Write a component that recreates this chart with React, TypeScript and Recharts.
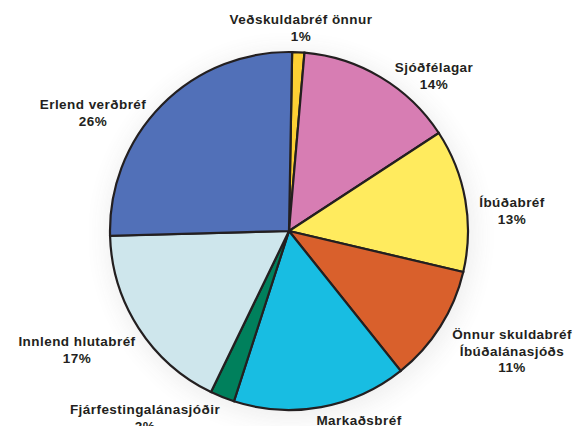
import { PieChart, Pie, Cell } from 'recharts';

const names = [
  'Veðskuldabréf önnur',
  'Sjóðfélagar',
  'Íbúðabréf',
  'Önnur skuldabréf Íbúðalánasjóðs',
  'Markaðsbréf',
  'Fjárfestingalánasjóðir',
  'Innlend hlutabréf',
  'Erlend verðbréf',
];

// shares (labels show rounded values)
const shares = [1.1, 14.4, 12.9, 10.6, 15.7, 2.2, 17.4, 25.7];

const labelLines = [
  ['Veðskuldabréf önnur', '1%'],
  ['Sjóðfélagar', '14%'],
  ['Íbúðabréf', '13%'],
  ['Önnur skuldabréf', 'Íbúðalánasjóðs', '11%'],
  ['Markaðsbréf', '16%'],
  ['Fjárfestingalánasjóðir', '2%'],
  ['Innlend hlutabréf', '17%'],
  ['Erlend verðbréf', '26%'],
];

const colors = ['#FDD034', '#D77DB3', '#FFEB5E', '#D9602C', '#18BDE2', '#00805C', '#CEE6EC', '#5170B8'];

// label anchors (centre x, first baseline) relative to the pie centre
const labelOffsets = [
  [12, -207],
  [145, -159],
  [223, -24],
  [223, 108],
  [70, 194],
  [-144, 183],
  [-212, 115],
  [-196, -122],
];

const data = names.map((name, i) => ({ name, value: shares[i] }));

const CX = 289;
const CY = 231;
const R = 179;

const renderLabel = (props: any) => {
  const { index, cx, cy } = props;
  const [dx, dy] = labelOffsets[index];
  return (
    <text
      key={`lbl-${index}`}
      x={cx + dx}
      y={cy + dy}
      textAnchor="middle"
      fill="#231F20"
      fontFamily="'Liberation Sans', Arial, sans-serif"
      fontWeight="bold"
      fontSize={13.5}
      letterSpacing={0.45}
    >
      {labelLines[index].map((line, j) => (
        <tspan key={j} x={cx + dx} dy={j === 0 ? 0 : 16.5}>
          {line}
        </tspan>
      ))}
    </text>
  );
};

const App = () => (
  <div style={{ position: 'absolute', left: 0, top: 0, width: 576, height: 426, background: '#fff', overflow: 'hidden' }}>
    <style>{`.pie-shadow { filter: blur(9px); opacity: 0.32; }`}</style>
    <PieChart width={576} height={426} margin={{ top: 0, right: 0, bottom: 0, left: 0 }}>
      <Pie
        className="pie-shadow"
        data={data}
        dataKey="value"
        cx={CX + 2}
        cy={CY + 4}
        outerRadius={R + 4}
        startAngle={89}
        endAngle={-271}
        fill="#555"
        stroke="none"
        isAnimationActive={false}
        labelLine={false}
      />
      <Pie
        data={data}
        dataKey="value"
        cx={CX}
        cy={CY}
        outerRadius={R}
        startAngle={89}
        endAngle={-271}
        stroke="#231F20"
        strokeWidth={2.2}
        isAnimationActive={false}
        labelLine={false}
        label={renderLabel}
      >
        {data.map((d, i) => (
          <Cell key={d.name} fill={colors[i]} />
        ))}
      </Pie>
    </PieChart>
  </div>
);

export default App;
